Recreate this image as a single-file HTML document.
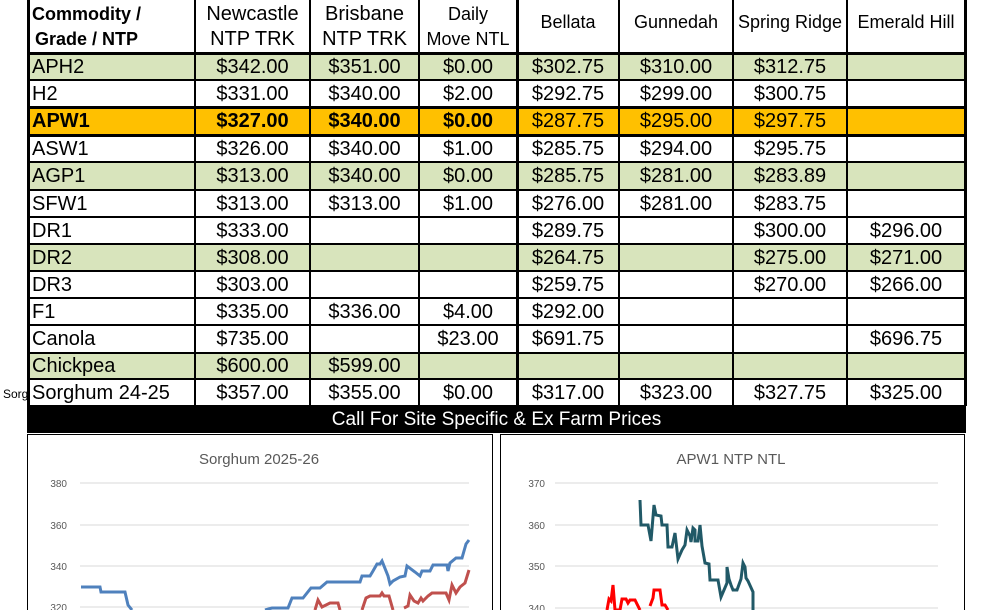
<!DOCTYPE html>
<html><head><style>
body{margin:0;width:996px;height:610px;overflow:hidden;background:#fff;position:relative;font-family:"Liberation Sans",Arial,sans-serif}
.c{position:absolute;box-sizing:border-box;font-size:20px;display:flex;align-items:center;justify-content:center;white-space:nowrap;padding-top:1px}
.l{justify-content:flex-start;padding-left:4px}
.v{position:absolute;background:#000;width:2px}
.h{position:absolute;background:#000;height:2px;left:28px;width:938px}
</style></head><body>
<div id="t"></div>
<div style="position:absolute;left:3px;top:387px;font-size:12px">Sorg</div>
<div style="position:absolute;left:27px;top:406px;width:939px;height:27px;background:#000;color:#fff;font-size:19px;text-align:center;line-height:27px">Call For Site Specific &amp; Ex Farm Prices</div>
<svg style="position:absolute;left:0;top:0" width="996" height="610">
<rect x="27.5" y="434.5" width="465" height="180" fill="none" stroke="#000"/>
<rect x="500.5" y="434.5" width="464" height="180" fill="none" stroke="#000"/>
<text x="259" y="464" font-family="Liberation Sans" font-size="15" fill="#595959" text-anchor="middle">Sorghum 2025-26</text>
<text x="731" y="464" font-family="Liberation Sans" font-size="15" fill="#595959" text-anchor="middle">APW1 NTP NTL</text>
<g stroke="#d9d9d9"><line x1="80" x2="469" y1="483" y2="483"/><line x1="80" x2="469" y1="525" y2="525"/><line x1="80" x2="469" y1="566" y2="566"/><line x1="80" x2="469" y1="607" y2="607"/>
<line x1="555" x2="938" y1="483" y2="483"/><line x1="555" x2="938" y1="525" y2="525"/><line x1="555" x2="938" y1="566" y2="566"/><line x1="555" x2="938" y1="608" y2="608"/></g>
<g font-family="Liberation Sans" font-size="10" fill="#595959" text-anchor="end"><text x="67" y="487">380</text><text x="67" y="529">360</text><text x="67" y="570">340</text><text x="67" y="611">320</text>
<text x="545" y="487">370</text><text x="545" y="529">360</text><text x="545" y="570">350</text><text x="545" y="612">340</text></g>
<polyline fill="none" stroke="#4f81bd" stroke-width="3" points="81,587 100,587 101,592 125,592 128,605 132,610"/>
<polyline fill="none" stroke="#4f81bd" stroke-width="3" points="265,610 272,608 288,608 292,598 303,598 311,588 320,588 327,582 360,582 362,576 370,576 373,571 377,564 380,564 382,561 388,576 390,584 393,581 400,577 405,576 407,566 415,572 420,576 422,571 430,571 433,565 447,565 448,571 450,563 456,558 462,558 466,544 469,540"/>
<polyline fill="none" stroke="#c0504d" stroke-width="3" points="315,610 318,600 322,607 330,603 338,603 340,610"/>
<polyline fill="none" stroke="#c0504d" stroke-width="3" points="362,610 366,598 370,596 380,596 382,593 384,596 389,596 393,610"/>
<polyline fill="none" stroke="#c0504d" stroke-width="3" points="404,608 408,606 410,595 414,601 418,603 421,598 423,601 428,596 432,593 446,593 449,600 452,585 456,593 460,587 465,583 469,570"/>
<polyline fill="none" stroke="#215967" stroke-width="3" points="640,500 641,525 648,525 651,541 654,505 656,515 661,516 662,525 667,525 668,547 672,547 675,533 678,559 682,550 685,545 687,530 690,536 691,542 693,528 695,530 695,541 698,541 700,525 702,546 705,563 709,564 710,580 718,580 721,597 724,590 727,583 727,567 729,579 731,585 733,590 737,590 741,579 743,563 745,567 746,578 748,581 753,592 753,610"/>
<polyline fill="none" stroke="#ff0000" stroke-width="3" points="607,610 609,599 611,601 613,585 615,610 620,610 622,599 626,599 628,603 630,600 635,600 640,610"/>
<polyline fill="none" stroke="#ff0000" stroke-width="3" points="650,606 653,598 654,590 660,590 662,605 665,605 668,610"/>
</svg>
<script>
var xs=[28,195,310,419,517,619,733,847,965];
var ys=[0,53,80,107,135,162,190,217,244,271,298,325,353,379,406];
var rows=[
["APH2","$342.00","$351.00","$0.00","$302.75","$310.00","$312.75","","g"],
["H2","$331.00","$340.00","$2.00","$292.75","$299.00","$300.75","",""],
["APW1","$327.00","$340.00","$0.00","$287.75","$295.00","$297.75","","o"],
["ASW1","$326.00","$340.00","$1.00","$285.75","$294.00","$295.75","",""],
["AGP1","$313.00","$340.00","$0.00","$285.75","$281.00","$283.89","","g"],
["SFW1","$313.00","$313.00","$1.00","$276.00","$281.00","$283.75","",""],
["DR1","$333.00","","","$289.75","","$300.00","$296.00",""],
["DR2","$308.00","","","$264.75","","$275.00","$271.00","g"],
["DR3","$303.00","","","$259.75","","$270.00","$266.00",""],
["F1","$335.00","$336.00","$4.00","$292.00","","","",""],
["Canola","$735.00","","$23.00","$691.75","","","$696.75",""],
["Chickpea","$600.00","$599.00","","","","","","g"],
["Sorghum 24-25","$357.00","$355.00","$0.00","$317.00","$323.00","$327.75","$325.00",""]];
var h="";
var hd=['<b style="font-size:18px;line-height:25px">Commodity /<br>Grade / NTP</b>',"Newcastle<br>NTP TRK","Brisbane<br>NTP TRK",'<span style="font-size:18px">Daily<br>Move NTL</span>',"Bellata","Gunnedah","Spring Ridge","Emerald Hill"];
for(var j=0;j<8;j++){var al=j==0?" l":"";var st=j>=4?"font-size:18px;align-items:flex-start;padding-top:12px;":"text-align:center;line-height:25px;";h+='<div class="c'+al+'" style="left:'+xs[j]+'px;top:0;width:'+(xs[j+1]-xs[j])+'px;height:53px;'+st+'"><div>'+hd[j]+'</div></div>';}
for(var i=0;i<rows.length;i++){var r=rows[i];var bg=r[8]=="g"?"#d8e4bc":r[8]=="o"?"#ffc000":"#fff";
for(var j=0;j<8;j++){var b=(r[8]=="o"&&j<4)?"font-weight:bold;":"";h+='<div class="c'+(j==0?" l":"")+'" style="'+b+'background:'+bg+';left:'+xs[j]+'px;top:'+ys[i+1]+'px;width:'+(xs[j+1]-xs[j])+'px;height:'+(ys[i+2]-ys[i+1])+'px">'+r[j]+'</div>';}}
for(var j=0;j<9;j++){var w=(j==0||j==4||j==8)?3:2;h+='<div class="v" style="left:'+(xs[j]-1)+'px;top:0;height:406px;width:'+w+'px"></div>';}
for(var i=1;i<ys.length;i++){var w=(i==3||i==4||i==1)?3:2;h+='<div class="h" style="top:'+(ys[i]-1)+'px;height:'+w+'px"></div>';}
document.getElementById("t").innerHTML=h;
</script>
</body></html>
